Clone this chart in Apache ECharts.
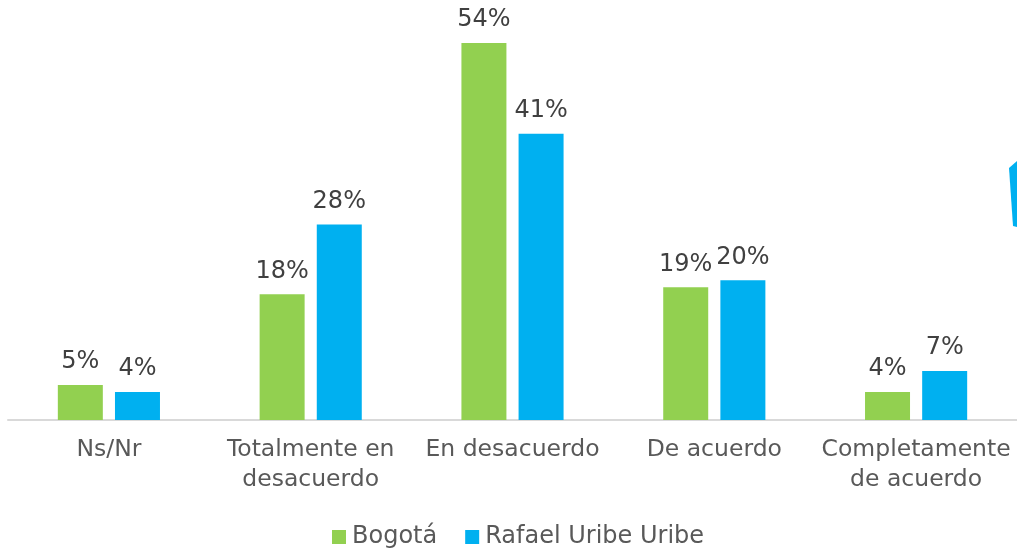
<!DOCTYPE html>
<html>
<head>
<meta charset="utf-8">
<script src="https://cdn.jsdelivr.net/npm/echarts@6/dist/echarts.min.js"></script>
<style>
  html, body { margin: 0; padding: 0; background: #fff; }
  #chart { width: 1017px; height: 550px; }
</style>
</head>
<body>
<div id="chart"></div>
<script>
// Response categories and percentages per area
const categories = ['Ns/Nr', 'Totalmente en\ndesacuerdo', 'En desacuerdo', 'De acuerdo', 'Completamente\nde acuerdo'];
const bogota = [5, 18, 54, 19, 4];
const rafaelUribe = [4, 28, 41, 20, 7];
const seriesNames = ['Bogotá', 'Rafael Uribe Uribe'];

const FONT = 'DejaVu Sans, Verdana, sans-serif';
const chart = echarts.init(document.getElementById('chart'));

const labelStyle = {
  show: true,
  position: 'top',
  distance: 11,
  formatter: p => p.value + '%',
  color: '#404040',
  fontSize: 24,
  fontFamily: FONT
};

chart.setOption({
  animation: false,
  textStyle: { fontFamily: FONT },
  grid: { left: 8, right: 0, top: 1, bottom: 130, containLabel: false },
  legend: {
    top: 520,
    left: 327,
    icon: 'rect',
    itemWidth: 14,
    itemHeight: 14,
    itemGap: 28,
    textStyle: { color: '#595959', fontSize: 24, fontFamily: FONT, padding: [0, 0, 0, 1] },
    data: seriesNames
  },
  xAxis: {
    type: 'category',
    data: categories,
    axisLine: { lineStyle: { color: '#d9d9d9', width: 2 } },
    axisTick: { show: false },
    axisLabel: {
      interval: 0,
      margin: 15,
      color: '#595959',
      fontSize: 23.5,
      lineHeight: 30,
      fontFamily: FONT
    }
  },
  yAxis: {
    type: 'value',
    min: 0,
    max: 60,
    show: false,
    splitLine: { show: false }
  },
  series: [
    {
      name: seriesNames[0],
      type: 'bar',
      data: bogota,
      barWidth: 45,
      barGap: '27%',
      itemStyle: { color: '#92D050' },
      label: labelStyle
    },
    {
      name: seriesNames[1],
      type: 'bar',
      data: rafaelUribe,
      barWidth: 45,
      itemStyle: { color: '#00B0F0' },
      label: labelStyle
    }
  ],
  graphic: [
    {
      type: 'polygon',
      shape: { points: [[1009, 168], [1017, 161], [1017, 227], [1013, 226]] },
      style: { fill: '#00B0F0' }
    }
  ]
});
</script>
</body>
</html>
